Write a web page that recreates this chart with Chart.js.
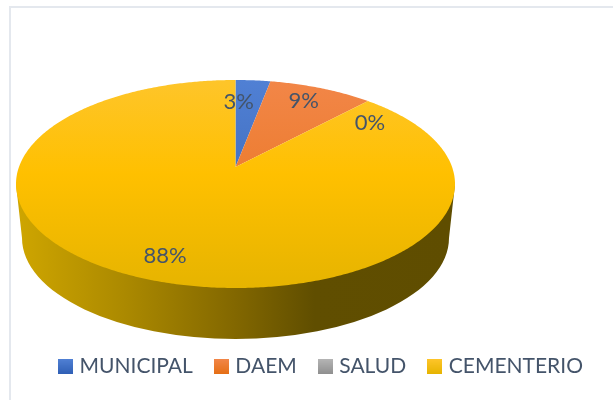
<!DOCTYPE html>
<html><head><meta charset="utf-8">
<script src="https://cdn.jsdelivr.net/npm/chart.js@4/dist/chart.umd.js"></script>
<style>
html,body{margin:0;padding:0;background:#fff;overflow:hidden}
#wrap{position:relative;width:613px;height:400px;overflow:hidden}
#frame{position:absolute;left:9px;top:6px;right:-4px;bottom:-4px;border:2px solid #e4e8ee;box-sizing:border-box}
canvas{position:absolute;left:0;top:0}
</style></head><body>
<div id="wrap"><div id="frame"></div><canvas id="c" width="613" height="400"></canvas></div>
<script>
const categories = ['MUNICIPAL','DAEM','SALUD','CEMENTERIO'];
const shares = [3,9,0,88];
const topColors = ['#5080d4','#f28648','#b5b5b5','#fec52a'];
const midColors = ['#4472c4','#ed7d31','#a5a5a5','#ffc000'];
const lowColors = ['#2f5fb5','#e56f15','#8f8f8f','#e6b400'];
const textColor = '#44546a';

const C = {cx:235.5, cy:184, rx:219.5, ry:104, apex:-0.163, depth:54, taper:6};
function project(x,y){
  const a=C.apex, w=1+a*y;
  return [C.cx+C.rx*x*Math.sqrt(1-a*a)/w, C.cy+C.ry*(y+a)/w];
}
// The library's arc elements keep their computed angles; they are only drawn through the tilted projection.
Chart.ArcElement.prototype.draw = function(ctx){
  const {startAngle,endAngle}=this.getProps(['startAngle','endAngle']);
  if(endAngle-startAngle<=0) return;
  ctx.save();
  ctx.beginPath();
  let p=project(0,0); ctx.moveTo(p[0],p[1]);
  const n=Math.max(2,Math.ceil((endAngle-startAngle)/0.01));
  for(let i=0;i<=n;i++){
    const t=startAngle+(endAngle-startAngle)*i/n;
    p=project(Math.cos(t),Math.sin(t)); ctx.lineTo(p[0],p[1]);
  }
  ctx.closePath();
  ctx.fillStyle=this.options.backgroundColor;
  ctx.fill();
  ctx.restore();
};

const canvas=document.getElementById('c');
const g=canvas.getContext('2d');
const sliceFills=categories.map((_,i)=>{
  const l=g.createLinearGradient(0,C.cy-C.ry,0,C.cy+C.ry);
  l.addColorStop(0,topColors[i]); l.addColorStop(0.45,midColors[i]); l.addColorStop(1,lowColors[i]);
  return l;
});
const swatches=categories.map((_,i)=>{
  const s=document.createElement('canvas'); s.width=15; s.height=15;
  const x=s.getContext('2d'), l=x.createLinearGradient(0,0,0,15);
  l.addColorStop(0,topColors[i]); l.addColorStop(1,lowColors[i]);
  x.fillStyle=l; x.fillRect(0,0,15,15);
  return s;
});

const sideWall={id:'sideWall',beforeDatasetsDraw(chart){
  const c=chart.ctx, bx=C.rx-C.taper, by=C.ry-3, bcy=C.cy+C.depth;
  c.save();
  c.beginPath();
  c.moveTo(C.cx-C.rx,C.cy);
  c.lineTo(C.cx-bx,bcy);
  c.ellipse(C.cx,bcy,bx,by,0,Math.PI,0,true);
  c.lineTo(C.cx+C.rx,C.cy);
  c.closePath();
  const l=c.createLinearGradient(C.cx-C.rx,0,C.cx+C.rx,0);
  l.addColorStop(0,'#cfa600');l.addColorStop(0.25,'#ab8900');l.addColorStop(0.5,'#826700');
  l.addColorStop(0.68,'#604e00');l.addColorStop(1,'#5f4d00');
  c.fillStyle=l;c.fill();
  c.restore();
}};
const valueLabels={id:'valueLabels',afterDatasetsDraw(chart,_,o){
  const c=chart.ctx, arcs=chart.getDatasetMeta(0).data;
  c.save();
  c.font=o.font;c.fillStyle=textColor;c.textAlign='center';c.textBaseline='middle';
  arcs.forEach((el,i)=>{
    const {startAngle,endAngle}=el.getProps(['startAngle','endAngle']);
    const m=(startAngle+endAngle)/2;
    const p=project(o.radial*Math.cos(m),o.radial*Math.sin(m));
    c.fillText(shares[i]+'%',p[0]+o.offsets[i][0],p[1]+o.offsets[i][1]);
  });
  c.restore();
}};

new Chart(canvas,{
  type:'pie',
  data:{labels:categories,datasets:[{data:shares,backgroundColor:sliceFills,borderWidth:0}]},
  plugins:[sideWall,valueLabels],
  options:{
    responsive:false,animation:false,
    layout:{padding:{left:32,right:0,top:0,bottom:13}},
    plugins:{
      tooltip:{enabled:false},
      valueLabels:{font:'22px Lato',radial:0.72,offsets:[[-10,0],[4,-7],[36,5],[-6,13]]},
      legend:{position:'bottom',
        labels:{color:textColor,font:{family:'Lato',size:21},usePointStyle:true,pointStyleWidth:7,boxHeight:15,padding:25,
          generateLabels(chart){
            return categories.map((t,i)=>({text:t,pointStyle:swatches[i],fillStyle:midColors[i],strokeStyle:'transparent',lineWidth:0,index:i,fontColor:textColor}));
          }}}
    }
  }
});
</script></body></html>
